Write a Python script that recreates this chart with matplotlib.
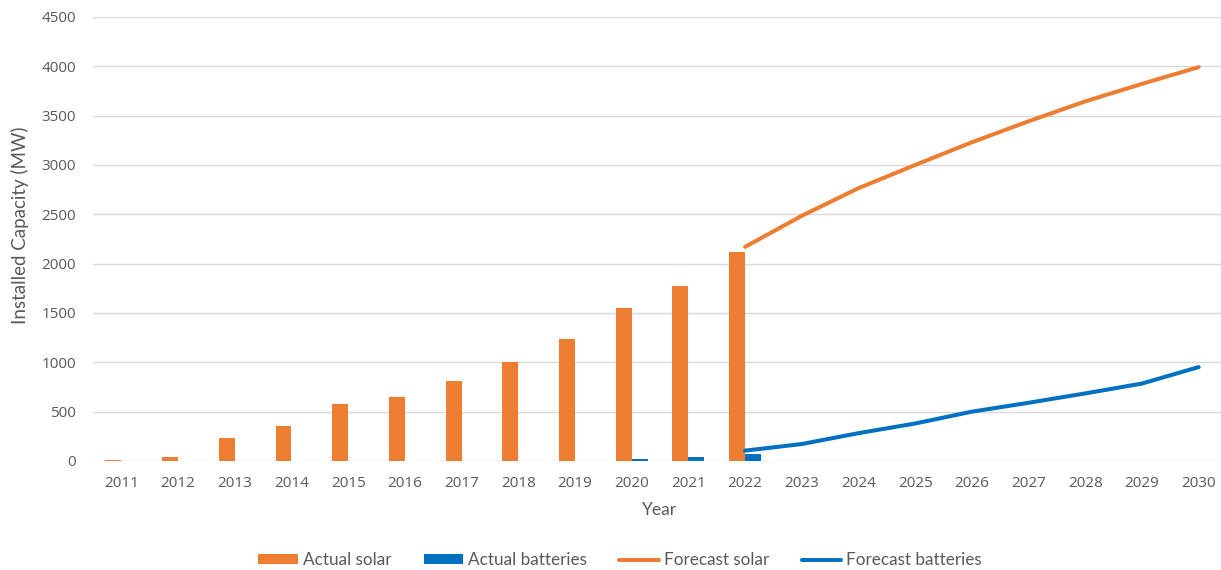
import matplotlib
matplotlib.use("Agg")
import matplotlib.pyplot as plt
import numpy as np
from matplotlib.patches import Patch
from matplotlib.lines import Line2D

years = [str(y) for y in range(2011, 2031)]
actual_years = years[:12]
actual_solar = [10, 45, 230, 355, 578, 645, 810, 1002, 1235, 1555, 1778, 2122]
actual_batteries = [0, 0, 0, 0, 0, 0, 0, 0, 0, 17, 40, 75]
forecast_years = years[11:]
forecast_solar = [2170, 2485, 2765, 3000, 3230, 3443, 3645, 3822, 3992]
forecast_batteries = [105, 172, 282, 380, 500, 590, 685, 785, 952]
yticks = [0, 500, 1000, 1500, 2000, 2500, 3000, 3500, 4000, 4500]

ORANGE = "#ED7D31"
BLUE = "#0070C0"
GRID = "#D9D9D9"
TXT = "#595959"

fig = plt.figure(figsize=(12.21, 5.70), dpi=100)
ax = fig.add_axes([93 / 1221, 109 / 570, (1221 - 93) / 1221, (461 - 17) / 570])

x = np.arange(len(years))
xa = np.arange(len(actual_years))
xf = np.arange(11, 11 + len(forecast_years))
w = 0.28
ax.bar(xa - w / 2, actual_solar, width=w, color=ORANGE, zorder=3, label="Actual solar")
ax.bar(xa + w / 2, actual_batteries, width=w, color=BLUE, zorder=3, label="Actual batteries")
ax.plot(xf, forecast_solar, color=ORANGE, lw=2.9, solid_capstyle="round", zorder=4, label="Forecast solar")
ax.plot(xf, forecast_batteries, color=BLUE, lw=2.9, solid_capstyle="round", zorder=4, label="Forecast batteries")

ax.set_xlim(-0.5, -0.5 + (1221 - 93) / 56.7)
ax.set_ylim(0, 4500)
ax.set_yticks(yticks)
ax.set_yticklabels([str(v) for v in yticks])
ax.set_xticks(x)
ax.set_xticklabels(years)
for s in ax.spines.values():
    s.set_visible(False)
ax.grid(axis="y", color=GRID, lw=1.0, zorder=0)
ax.tick_params(axis="both", length=0, colors=TXT, labelsize=11)
ax.tick_params(axis="y", pad=12)
ax.tick_params(axis="x", pad=11)
for lab in ax.get_xticklabels() + ax.get_yticklabels():
    lab.set_fontfamily("Open Sans")

fig.text(20 / 1221, 1 - 225 / 570, "Installed Capacity (MW)", rotation=90, ha="center", va="center",
         color=TXT, fontsize=13.5, family="Lato")
fig.text(660 / 1221, 1 - 510 / 570, "Year", ha="center", va="center", color=TXT, fontsize=12.5, family="Lato")

handles = [
    Patch(facecolor=ORANGE, edgecolor="none"),
    Patch(facecolor=BLUE, edgecolor="none"),
    Line2D([0], [0], color=ORANGE, lw=2.9, solid_capstyle="round"),
    Line2D([0], [0], color=BLUE, lw=2.9, solid_capstyle="round"),
]
labels = ["Actual solar", "Actual batteries", "Forecast solar", "Forecast batteries"]
leg = fig.legend(handles, labels, loc="center", bbox_to_anchor=(620 / 1221, 10 / 570), ncol=4,
                 frameon=False, prop={"family": "Lato", "size": 12.3}, handlelength=2.3,
                 handleheight=0.5, handletextpad=0.3, columnspacing=1.9, labelcolor=TXT)

fig.savefig("out.png", dpi=100)
